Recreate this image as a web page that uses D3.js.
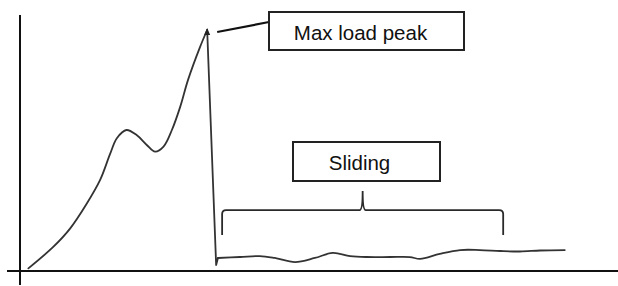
<!DOCTYPE html>
<html>
<head>
<meta charset="utf-8">
<script src="https://cdn.jsdelivr.net/npm/d3@7/dist/d3.min.js"></script>
<style>
  html, body { margin: 0; padding: 0; background: #fff; }
  svg { display: block; }
</style>
</head>
<body>
<div id="chart"></div>
<script>
// load vs displacement (peak = 100)
var disp = [1.4, 5.6, 8.4, 11.2, 13.4, 15.1, 16.2, 17.8, 19.5, 21.2, 22.6, 24.0, 25.4, 26.8, 28.1, 30.1, 31.3,
  32.8, 33.1, 36.8, 40.1, 42.6, 46.0, 49.3, 52.3, 55.2, 58.0, 61.9, 65.2, 66.9, 70.2, 73.6, 76.9,
  80.3, 83.6, 87.0, 91.1];
var load = [1.1, 10.1, 17.7, 28.1, 37.8, 48.8, 55.1, 58.5, 56.4, 52.3, 49.5, 51.6, 58.5, 68.2, 79.3, 92.9, 100,
  2.5, 5.4, 5.8, 6.2, 5.4, 3.7, 5.4, 7.5, 6.2, 5.8, 5.8, 5.8, 5.0, 7.1, 8.7, 8.7,
  8.3, 8.1, 8.5, 8.7];

// annotation labels
var peakLabel = 'Max load peak';
var slideLabel = 'Sliding';
// sliding brace span (displacement) and heights (load)
var braceSpan = [33.8, 80.8];
var braceLevels = [14.9, 25.3, 33.2];

var width = 618;
var height = 286;

var x = d3.scaleLinear().domain([0, 100]).range([20, 618]);
var y = d3.scaleLinear().domain([0, 100]).range([271, 30]);

var svg = d3.select('#chart').append('svg')
  .attr('width', width)
  .attr('height', height);

// 軸（目盛りなし）
svg.append('line')
  .attr('x1', x(0)).attr('x2', x(0))
  .attr('y1', 15).attr('y2', 285)
  .attr('stroke', '#111').attr('stroke-width', 2);
svg.append('line')
  .attr('x1', 7).attr('x2', 618)
  .attr('y1', y(0)).attr('y2', y(0))
  .attr('stroke', '#111').attr('stroke-width', 2);

// 曲線：立ち上がり、急落、すべり
var pts = disp.map(function(d, i) { return [d, load[i]]; });
var iPeak = load.indexOf(d3.max(load));
var line = d3.line()
  .x(function(d) { return x(d[0]); })
  .y(function(d) { return y(d[1]); })
  .curve(d3.curveCatmullRom.alpha(0.5));
var straight = d3.line()
  .x(function(d) { return x(d[0]); })
  .y(function(d) { return y(d[1]); });

var pieces = [
  [line, pts.slice(0, iPeak + 1)],
  [straight, pts.slice(iPeak, iPeak + 3)],
  [line, pts.slice(iPeak + 2)]
];
pieces.forEach(function(p) {
  svg.append('path')
    .datum(p[1])
    .attr('d', p[0])
    .attr('fill', 'none')
    .attr('stroke', '#333')
    .attr('stroke-width', 1.8)
    .attr('stroke-linejoin', 'round')
    .attr('stroke-linecap', 'round');
});

// peak arrow tip
var px = x(disp[iPeak]);
var py = y(load[iPeak]);
svg.append('path')
  .attr('d', 'M' + px + ',' + (py - 2) + 'L' + (px - 3) + ',' + (py + 5) + 'L' + (px + 3) + ',' + (py + 5) + 'Z')
  .attr('fill', '#222');

// Max load peak box
var box1 = { x: 269, y: 12, w: 195, h: 38 };
svg.append('line')
  .attr('x1', px + 10).attr('y1', py + 2)
  .attr('x2', box1.x).attr('y2', py - 8)
  .attr('stroke', '#111').attr('stroke-width', 2.2);
svg.append('rect')
  .attr('x', box1.x).attr('y', box1.y)
  .attr('width', box1.w).attr('height', box1.h)
  .attr('fill', '#fff').attr('stroke', '#222').attr('stroke-width', 2);
svg.append('text')
  .attr('x', box1.x + box1.w / 2 - 6).attr('y', 39.5)
  .attr('text-anchor', 'middle')
  .style('font-family', 'Liberation Sans, Arial, sans-serif')
  .style('font-size', '20.5px')
  .attr('fill', '#111')
  .text(peakLabel);

// Sliding box
var box2 = { x: 293, y: 142, w: 147, h: 39 };
svg.append('rect')
  .attr('x', box2.x).attr('y', box2.y)
  .attr('width', box2.w).attr('height', box2.h)
  .attr('fill', '#fff').attr('stroke', '#222').attr('stroke-width', 2);
svg.append('text')
  .attr('x', box2.x + box2.w / 2 - 7).attr('y', 170)
  .attr('text-anchor', 'middle')
  .style('font-family', 'Liberation Sans, Arial, sans-serif')
  .style('font-size', '20.5px')
  .attr('fill', '#111')
  .text(slideLabel);

// brace
var bx0 = x(braceSpan[0]);
var bx1 = x(braceSpan[1]);
var bxm = (bx0 + bx1) / 2;
var yb = y(braceLevels[0]);
var yt = y(braceLevels[1]);
var ytip = y(braceLevels[2]);
var r = 4;
var brace = 'M' + bx0 + ',' + yb +
  'L' + bx0 + ',' + (yt + r) +
  'Q' + bx0 + ',' + yt + ' ' + (bx0 + r) + ',' + yt +
  'L' + (bxm - 3) + ',' + yt +
  'Q' + bxm + ',' + yt + ' ' + bxm + ',' + ytip +
  'Q' + bxm + ',' + yt + ' ' + (bxm + 3) + ',' + yt +
  'L' + (bx1 - r) + ',' + yt +
  'Q' + bx1 + ',' + yt + ' ' + bx1 + ',' + (yt + r) +
  'L' + bx1 + ',' + yb;
svg.append('path')
  .attr('d', brace)
  .attr('fill', 'none')
  .attr('stroke', '#2a2a2a')
  .attr('stroke-width', 1.8);
</script>
</body>
</html>
